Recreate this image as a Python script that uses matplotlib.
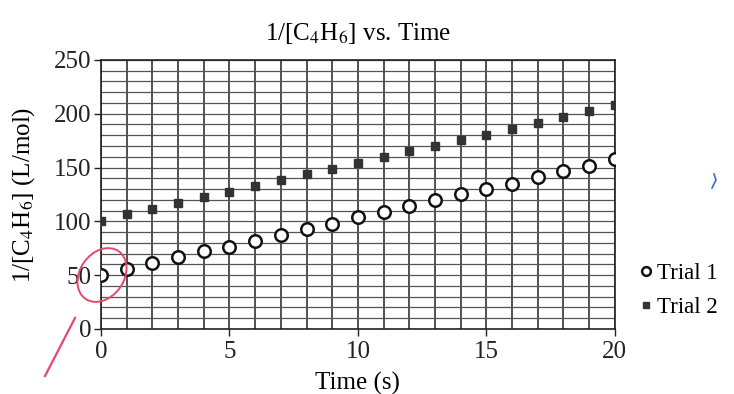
import numpy as np
import matplotlib
matplotlib.use("Agg")
import matplotlib.pyplot as plt
from matplotlib.patches import Ellipse
from matplotlib.lines import Line2D

plt.rcParams['font.family'] = ['Liberation Serif', 'DejaVu Serif']
plt.rcParams['mathtext.fontset'] = 'stix'

# data
time_s = [0, 1, 2, 3, 4, 5, 6, 7, 8, 9, 10, 11, 12, 13, 14, 15, 16, 17, 18, 19, 20]
trial1 = [50, 55.5, 61, 66.5, 72.5, 76.5, 82, 87, 92.5, 98, 104, 108.5, 114.5, 119.5,
          125.5, 130, 135, 141, 147, 151, 157.5]
trial2 = [100, 107, 111.5, 117.5, 123, 127.5, 133, 138.5, 144, 148.5, 154, 159.5, 165.5,
          170, 175.5, 180, 185.5, 191, 196.5, 202.5, 208.5]
x_ticks = [0, 5, 10, 15, 20]
y_ticks = [0, 50, 100, 150, 200, 250]

fig = plt.figure(figsize=(7.34, 3.94), dpi=100)
ax = fig.add_axes([0.1376, 0.165, 0.700, 0.683])

# grid: every second in x, every 10 in y
for t in range(0, 21):
    ax.axvline(t, color='#222222', lw=1.1, zorder=1)
for v in range(0, 251, 10):
    ax.axhline(v, color='#555555', lw=0.9, zorder=1)

ax.plot(time_s, trial1, 'o', ms=9, mfc='white', mec='#111111', mew=1.8,
        zorder=3, label='Trial 1')
ax.plot(time_s, trial2, 's', ms=5.5, mfc='#333333', mec='#333333',
        zorder=3, label='Trial 2')

ax.set_xlim(0, 20)
ax.set_ylim(0, 250)
ax.set_xticks(x_ticks)
ax.set_yticks(y_ticks)
ax.tick_params(labelsize=18, length=5, width=1, colors='#222222', pad=2)
ax.tick_params(axis='x', pad=4)
for s in ax.spines.values():
    s.set_color('#222222')
    s.set_linewidth(1.2)

ax.set_title('1/[C$_4$H$_6$] vs. Time', fontsize=18, pad=14)
ax.set_xlabel('Time (s)', fontsize=18, labelpad=6)
ax.set_ylabel('1/[C$_4$H$_6$] (L/mol)', fontsize=18, labelpad=12)

fig.legend(loc='center left', bbox_to_anchor=(0.853, 0.263), frameon=False,
           fontsize=16.5, handlelength=0.35, handletextpad=0.3, labelspacing=0.55,
           markerscale=0.7, borderpad=0.2)

# pen marks on the scan (drawn in inches from the lower-left corner)
fig.add_artist(Ellipse((1.02, 1.19), 0.44, 0.58, angle=-35, fill=False,
                       ec='#e8476a', lw=1.4, transform=fig.dpi_scale_trans))
fig.add_artist(Line2D([45 / 734, 75 / 734], [1 - 376 / 394, 1 - 318 / 394],
                      color='#e8476a', lw=1.6))
fig.add_artist(Line2D([712 / 734, 716 / 734, 714 / 734], [1 - 188 / 394, 1 - 180 / 394, 1 - 174 / 394],
                      color='#3a6bd1', lw=1.2))

fig.savefig('out.png', dpi=100, facecolor='white')
